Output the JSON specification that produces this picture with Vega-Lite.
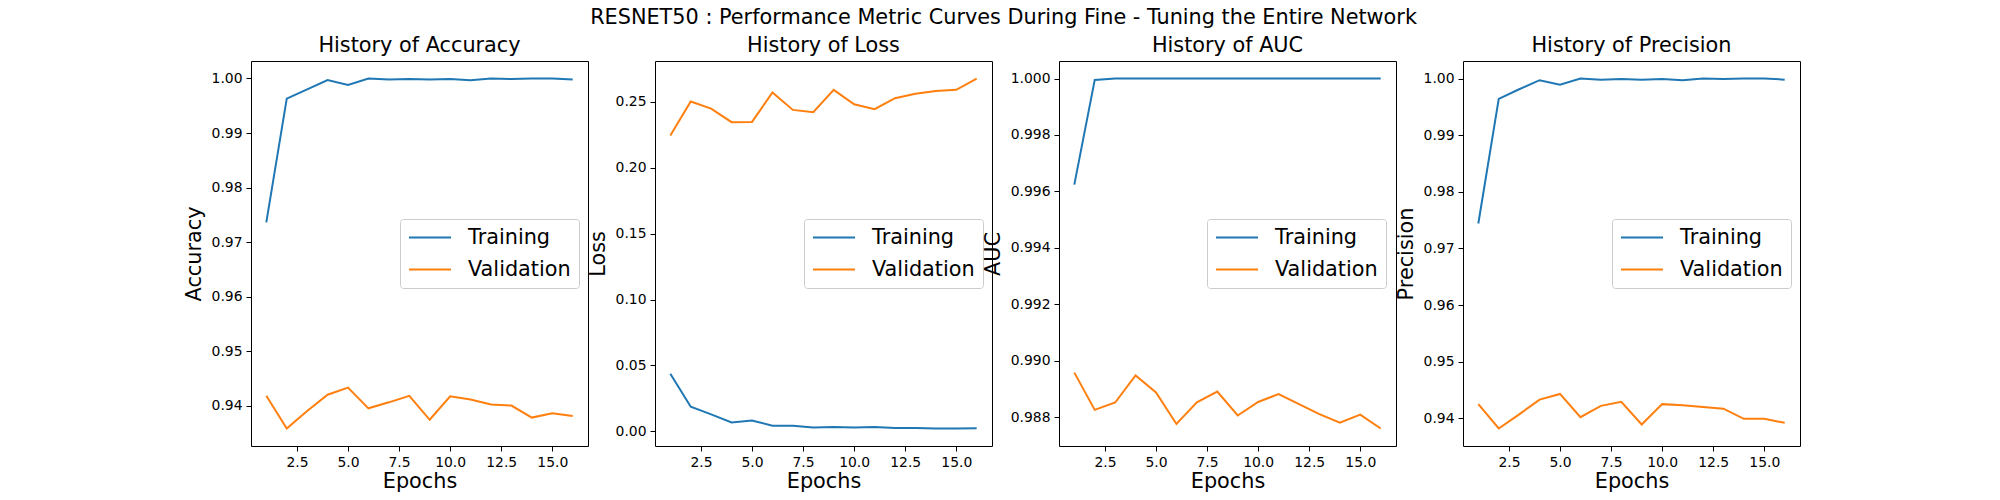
{
  "$schema": "https://vega.github.io/schema/vega-lite/v6.json",
  "padding": {"left": 182, "top": 6, "right": 5, "bottom": 5},
  "background": "white",
  "title": {"text": "RESNET50 : Performance Metric Curves During Fine - Tuning the Entire Network", "anchor": "middle", "fontSize": 20.8, "fontWeight": "normal", "font": "DejaVu Sans", "color": "black", "offset": 6, "dx": 12, "frame": "bounds"},
  "data": {"values": [
    {"metric":"Accuracy","series":"Training","epoch":1,"value":0.9736},
    {"metric":"Accuracy","series":"Training","epoch":2,"value":0.9963},
    {"metric":"Accuracy","series":"Training","epoch":3,"value":0.9980},
    {"metric":"Accuracy","series":"Training","epoch":4,"value":0.9997},
    {"metric":"Accuracy","series":"Training","epoch":5,"value":0.9988},
    {"metric":"Accuracy","series":"Training","epoch":6,"value":1.0000},
    {"metric":"Accuracy","series":"Training","epoch":7,"value":0.9998},
    {"metric":"Accuracy","series":"Training","epoch":8,"value":0.9999},
    {"metric":"Accuracy","series":"Training","epoch":9,"value":0.9998},
    {"metric":"Accuracy","series":"Training","epoch":10,"value":0.9999},
    {"metric":"Accuracy","series":"Training","epoch":11,"value":0.9997},
    {"metric":"Accuracy","series":"Training","epoch":12,"value":1.0000},
    {"metric":"Accuracy","series":"Training","epoch":13,"value":0.9999},
    {"metric":"Accuracy","series":"Training","epoch":14,"value":1.0000},
    {"metric":"Accuracy","series":"Training","epoch":15,"value":1.0000},
    {"metric":"Accuracy","series":"Training","epoch":16,"value":0.9998},
    {"metric":"Accuracy","series":"Validation","epoch":1,"value":0.9418},
    {"metric":"Accuracy","series":"Validation","epoch":2,"value":0.9358},
    {"metric":"Accuracy","series":"Validation","epoch":3,"value":0.9390},
    {"metric":"Accuracy","series":"Validation","epoch":4,"value":0.9420},
    {"metric":"Accuracy","series":"Validation","epoch":5,"value":0.9433},
    {"metric":"Accuracy","series":"Validation","epoch":6,"value":0.9395},
    {"metric":"Accuracy","series":"Validation","epoch":7,"value":0.9406},
    {"metric":"Accuracy","series":"Validation","epoch":8,"value":0.9418},
    {"metric":"Accuracy","series":"Validation","epoch":9,"value":0.9374},
    {"metric":"Accuracy","series":"Validation","epoch":10,"value":0.9417},
    {"metric":"Accuracy","series":"Validation","epoch":11,"value":0.9411},
    {"metric":"Accuracy","series":"Validation","epoch":12,"value":0.9402},
    {"metric":"Accuracy","series":"Validation","epoch":13,"value":0.9400},
    {"metric":"Accuracy","series":"Validation","epoch":14,"value":0.9378},
    {"metric":"Accuracy","series":"Validation","epoch":15,"value":0.9386},
    {"metric":"Accuracy","series":"Validation","epoch":16,"value":0.9381},
    {"metric":"Loss","series":"Training","epoch":1,"value":0.0437},
    {"metric":"Loss","series":"Training","epoch":2,"value":0.0187},
    {"metric":"Loss","series":"Training","epoch":3,"value":0.0129},
    {"metric":"Loss","series":"Training","epoch":4,"value":0.0068},
    {"metric":"Loss","series":"Training","epoch":5,"value":0.0083},
    {"metric":"Loss","series":"Training","epoch":6,"value":0.0043},
    {"metric":"Loss","series":"Training","epoch":7,"value":0.0043},
    {"metric":"Loss","series":"Training","epoch":8,"value":0.0030},
    {"metric":"Loss","series":"Training","epoch":9,"value":0.0033},
    {"metric":"Loss","series":"Training","epoch":10,"value":0.0030},
    {"metric":"Loss","series":"Training","epoch":11,"value":0.0033},
    {"metric":"Loss","series":"Training","epoch":12,"value":0.0025},
    {"metric":"Loss","series":"Training","epoch":13,"value":0.0025},
    {"metric":"Loss","series":"Training","epoch":14,"value":0.0022},
    {"metric":"Loss","series":"Training","epoch":15,"value":0.0022},
    {"metric":"Loss","series":"Training","epoch":16,"value":0.0024},
    {"metric":"Loss","series":"Validation","epoch":1,"value":0.2245},
    {"metric":"Loss","series":"Validation","epoch":2,"value":0.2503},
    {"metric":"Loss","series":"Validation","epoch":3,"value":0.2449},
    {"metric":"Loss","series":"Validation","epoch":4,"value":0.2346},
    {"metric":"Loss","series":"Validation","epoch":5,"value":0.2348},
    {"metric":"Loss","series":"Validation","epoch":6,"value":0.2571},
    {"metric":"Loss","series":"Validation","epoch":7,"value":0.2439},
    {"metric":"Loss","series":"Validation","epoch":8,"value":0.2422},
    {"metric":"Loss","series":"Validation","epoch":9,"value":0.2591},
    {"metric":"Loss","series":"Validation","epoch":10,"value":0.2482},
    {"metric":"Loss","series":"Validation","epoch":11,"value":0.2444},
    {"metric":"Loss","series":"Validation","epoch":12,"value":0.2528},
    {"metric":"Loss","series":"Validation","epoch":13,"value":0.2561},
    {"metric":"Loss","series":"Validation","epoch":14,"value":0.2583},
    {"metric":"Loss","series":"Validation","epoch":15,"value":0.2591},
    {"metric":"Loss","series":"Validation","epoch":16,"value":0.2677},
    {"metric":"AUC","series":"Training","epoch":1,"value":0.99624},
    {"metric":"AUC","series":"Training","epoch":2,"value":0.99995},
    {"metric":"AUC","series":"Training","epoch":3,"value":1.0},
    {"metric":"AUC","series":"Training","epoch":4,"value":1.0},
    {"metric":"AUC","series":"Training","epoch":5,"value":1.0},
    {"metric":"AUC","series":"Training","epoch":6,"value":1.0},
    {"metric":"AUC","series":"Training","epoch":7,"value":1.0},
    {"metric":"AUC","series":"Training","epoch":8,"value":1.0},
    {"metric":"AUC","series":"Training","epoch":9,"value":1.0},
    {"metric":"AUC","series":"Training","epoch":10,"value":1.0},
    {"metric":"AUC","series":"Training","epoch":11,"value":1.0},
    {"metric":"AUC","series":"Training","epoch":12,"value":1.0},
    {"metric":"AUC","series":"Training","epoch":13,"value":1.0},
    {"metric":"AUC","series":"Training","epoch":14,"value":1.0},
    {"metric":"AUC","series":"Training","epoch":15,"value":1.0},
    {"metric":"AUC","series":"Training","epoch":16,"value":1.0},
    {"metric":"AUC","series":"Validation","epoch":1,"value":0.98958},
    {"metric":"AUC","series":"Validation","epoch":2,"value":0.98826},
    {"metric":"AUC","series":"Validation","epoch":3,"value":0.98852},
    {"metric":"AUC","series":"Validation","epoch":4,"value":0.98948},
    {"metric":"AUC","series":"Validation","epoch":5,"value":0.98888},
    {"metric":"AUC","series":"Validation","epoch":6,"value":0.98776},
    {"metric":"AUC","series":"Validation","epoch":7,"value":0.98853},
    {"metric":"AUC","series":"Validation","epoch":8,"value":0.98891},
    {"metric":"AUC","series":"Validation","epoch":9,"value":0.98806},
    {"metric":"AUC","series":"Validation","epoch":10,"value":0.98854},
    {"metric":"AUC","series":"Validation","epoch":11,"value":0.98882},
    {"metric":"AUC","series":"Validation","epoch":12,"value":0.98846},
    {"metric":"AUC","series":"Validation","epoch":13,"value":0.98811},
    {"metric":"AUC","series":"Validation","epoch":14,"value":0.98781},
    {"metric":"AUC","series":"Validation","epoch":15,"value":0.98809},
    {"metric":"AUC","series":"Validation","epoch":16,"value":0.98760},
    {"metric":"Precision","series":"Training","epoch":1,"value":0.9744},
    {"metric":"Precision","series":"Training","epoch":2,"value":0.9964},
    {"metric":"Precision","series":"Training","epoch":3,"value":0.9981},
    {"metric":"Precision","series":"Training","epoch":4,"value":0.9997},
    {"metric":"Precision","series":"Training","epoch":5,"value":0.9989},
    {"metric":"Precision","series":"Training","epoch":6,"value":1.0000},
    {"metric":"Precision","series":"Training","epoch":7,"value":0.9998},
    {"metric":"Precision","series":"Training","epoch":8,"value":0.9999},
    {"metric":"Precision","series":"Training","epoch":9,"value":0.9998},
    {"metric":"Precision","series":"Training","epoch":10,"value":0.9999},
    {"metric":"Precision","series":"Training","epoch":11,"value":0.9997},
    {"metric":"Precision","series":"Training","epoch":12,"value":1.0000},
    {"metric":"Precision","series":"Training","epoch":13,"value":0.9999},
    {"metric":"Precision","series":"Training","epoch":14,"value":1.0000},
    {"metric":"Precision","series":"Training","epoch":15,"value":1.0000},
    {"metric":"Precision","series":"Training","epoch":16,"value":0.9998},
    {"metric":"Precision","series":"Validation","epoch":1,"value":0.9425},
    {"metric":"Precision","series":"Validation","epoch":2,"value":0.9382},
    {"metric":"Precision","series":"Validation","epoch":3,"value":0.9407},
    {"metric":"Precision","series":"Validation","epoch":4,"value":0.9433},
    {"metric":"Precision","series":"Validation","epoch":5,"value":0.9443},
    {"metric":"Precision","series":"Validation","epoch":6,"value":0.9402},
    {"metric":"Precision","series":"Validation","epoch":7,"value":0.9422},
    {"metric":"Precision","series":"Validation","epoch":8,"value":0.9429},
    {"metric":"Precision","series":"Validation","epoch":9,"value":0.9389},
    {"metric":"Precision","series":"Validation","epoch":10,"value":0.9425},
    {"metric":"Precision","series":"Validation","epoch":11,"value":0.9423},
    {"metric":"Precision","series":"Validation","epoch":12,"value":0.9420},
    {"metric":"Precision","series":"Validation","epoch":13,"value":0.9417},
    {"metric":"Precision","series":"Validation","epoch":14,"value":0.9399},
    {"metric":"Precision","series":"Validation","epoch":15,"value":0.9399},
    {"metric":"Precision","series":"Validation","epoch":16,"value":0.9392}
  ]},
  "spacing": 67,
  "bounds": "flush",
  "resolve": {"scale": {"y": "independent", "x": "independent", "color": "independent"}, "legend": {"color": "independent"}},
  "hconcat": [
    {
      "width": 337, "height": 385,
      "title": "History of Accuracy",
      "transform": [{"filter": "datum.metric === 'Accuracy'"}],
      "mark": {"type": "line", "strokeWidth": 2},
      "encoding": {
        "x": {"field": "epoch", "type": "quantitative", "scale": {"domain": [0.25, 16.75], "nice": false, "zero": false}, "axis": {"values": [2.5, 5, 7.5, 10, 12.5, 15], "format": ".1f", "title": "Epochs"}},
        "y": {"field": "value", "type": "quantitative", "scale": {"domain": [0.93259, 1.00321], "nice": false, "zero": false}, "axis": {"values": [0.94, 0.95, 0.96, 0.97, 0.98, 0.99, 1.0], "format": ".2f", "title": "Accuracy"}},
        "color": {"field": "series", "type": "nominal", "scale": {"domain": ["Training", "Validation"], "range": ["#1f77b4", "#ff7f0e"]}, "legend": {"orient": "none", "legendX": 149, "legendY": 158}}
      }
    },
    {
      "width": 337, "height": 385,
      "title": "History of Loss",
      "transform": [{"filter": "datum.metric === 'Loss'"}],
      "mark": {"type": "line", "strokeWidth": 2},
      "encoding": {
        "x": {"field": "epoch", "type": "quantitative", "scale": {"domain": [0.25, 16.75], "nice": false, "zero": false}, "axis": {"values": [2.5, 5, 7.5, 10, 12.5, 15], "format": ".1f", "title": "Epochs"}},
        "y": {"field": "value", "type": "quantitative", "scale": {"domain": [-0.0111, 0.281], "nice": false, "zero": false}, "axis": {"values": [0, 0.05, 0.1, 0.15, 0.2, 0.25], "format": ".2f", "title": "Loss"}},
        "color": {"field": "series", "type": "nominal", "scale": {"domain": ["Training", "Validation"], "range": ["#1f77b4", "#ff7f0e"]}, "legend": {"orient": "none", "legendX": 149, "legendY": 158}}
      }
    },
    {
      "width": 337, "height": 385,
      "title": "History of AUC",
      "transform": [{"filter": "datum.metric === 'AUC'"}],
      "mark": {"type": "line", "strokeWidth": 2},
      "encoding": {
        "x": {"field": "epoch", "type": "quantitative", "scale": {"domain": [0.25, 16.75], "nice": false, "zero": false}, "axis": {"values": [2.5, 5, 7.5, 10, 12.5, 15], "format": ".1f", "title": "Epochs"}},
        "y": {"field": "value", "type": "quantitative", "scale": {"domain": [0.98698, 1.00062], "nice": false, "zero": false}, "axis": {"values": [0.988, 0.99, 0.992, 0.994, 0.996, 0.998, 1.0], "format": ".3f", "title": "AUC"}},
        "color": {"field": "series", "type": "nominal", "scale": {"domain": ["Training", "Validation"], "range": ["#1f77b4", "#ff7f0e"]}, "legend": {"orient": "none", "legendX": 148, "legendY": 158}}
      }
    },
    {
      "width": 337, "height": 385,
      "title": "History of Precision",
      "transform": [{"filter": "datum.metric === 'Precision'"}],
      "mark": {"type": "line", "strokeWidth": 2},
      "encoding": {
        "x": {"field": "epoch", "type": "quantitative", "scale": {"domain": [0.25, 16.75], "nice": false, "zero": false}, "axis": {"values": [2.5, 5, 7.5, 10, 12.5, 15], "format": ".1f", "title": "Epochs"}},
        "y": {"field": "value", "type": "quantitative", "scale": {"domain": [0.93511, 1.00309], "nice": false, "zero": false}, "axis": {"values": [0.94, 0.95, 0.96, 0.97, 0.98, 0.99, 1.0], "format": ".2f", "title": "Precision"}},
        "color": {"field": "series", "type": "nominal", "scale": {"domain": ["Training", "Validation"], "range": ["#1f77b4", "#ff7f0e"]}, "legend": {"orient": "none", "legendX": 149, "legendY": 158}}
      }
    }
  ],
  "config": {
    "font": "DejaVu Sans",
    "view": {"stroke": "black", "strokeWidth": 1},
    "axis": {"grid": false, "domain": false, "tickColor": "black", "tickSize": 5, "tickWidth": 1, "labelColor": "black", "labelFontSize": 13.9, "labelFont": "DejaVu Sans", "titleFont": "DejaVu Sans", "titleFontSize": 20.8, "titleFontWeight": "normal", "titleColor": "black", "labelPadding": 4, "labelFlush": false, "labelOverlap": false},
    "axisX": {"titlePadding": 3},
    "axisY": {"titlePadding": 7},
    "title": {"font": "DejaVu Sans", "fontSize": 20.8, "fontWeight": "normal", "color": "black", "offset": 4, "baseline": "alphabetic", "anchor": "middle"},
    "legend": {"title": null, "symbolType": "stroke", "symbolSize": 1764, "clipHeight": 21, "symbolStrokeWidth": 2, "labelFontSize": 20.8, "labelFont": "DejaVu Sans", "labelColor": "black", "labelOffset": 16, "fillColor": "rgba(255,255,255,0.8)", "strokeColor": "#cccccc", "cornerRadius": 3, "padding": 8, "rowPadding": 10}
  }
}
